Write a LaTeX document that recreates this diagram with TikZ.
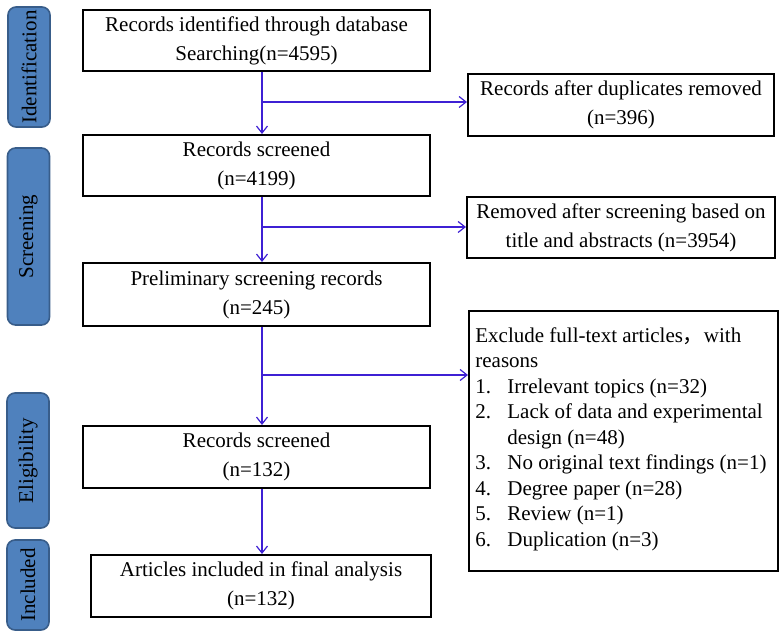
\documentclass[tikz,border=0pt]{standalone}
\usepackage{fontspec}
\setmainfont{Liberation Serif}
\newfontfamily\cjk{Noto Sans CJK SC}
\usepackage{tikz}
\usetikzlibrary{positioning}
\usetikzlibrary{arrows.meta}
\definecolor{flowblue}{RGB}{62,32,212}
\definecolor{barfill}{RGB}{79,129,189}
\definecolor{barline}{RGB}{56,93,138}
\tikzset{% styles of the flow chart
        box/.style={draw, line width=1pt, inner sep=0pt, align=center,
                    font=\fontsize{10.5}{14.5}\selectfont},
        stage/.style={draw=barline, fill=barfill, line width=0.8pt, rounded corners=4pt,
                    rotate=90, inner sep=0pt, minimum height=21pt,
                    font=\fontsize{10.5}{12}\selectfont},
        flow/.style={draw=flowblue, line width=0.6pt, -{Straight Barb[length=3.5pt,width=5.5pt]}}
        }

\begin{document}
\begin{tikzpicture}[x=0.5pt,y=-0.5pt]
\useasboundingbox (0,0) rectangle (783,636);
% stages on the left
\node[stage, minimum width=60pt] (sIdent) at (29,67) {Identification};
\node[stage, minimum width=88.5pt] (sScreen) at (28.5,236.5) {Screening};
\node[stage, minimum width=67.5pt] (sElig) at (28,460.5) {Eligibility};
\node[stage, minimum width=45pt] (sIncl) at (28,585) {Included};
% main column
\node[box, minimum width=173.5pt, minimum height=30.5pt] (ident) at (256.5,40.5)
     {Records identified through database\\Searching(n=4595)};
\node[box, minimum width=173.5pt, minimum height=30.5pt] (screen) at (256.5,165.5)
     {Records screened\\(n=4199)};
\node[box, minimum width=173.5pt, minimum height=31.5pt] (prelim) at (256.5,294.5)
     {Preliminary screening records\\(n=245)};
\node[box, minimum width=173.5pt, minimum height=31pt] (elig) at (256.5,457)
     {Records screened\\(n=132)};
\node[box, minimum width=170pt, minimum height=31pt] (incl) at (261,586)
     {Articles included in final analysis\\(n=132)};
% right column
\node[box, minimum width=153pt, minimum height=31pt] (dupl) at (621,105)
     {Records after duplicates removed\\(n=396)};
\node[box, minimum width=154pt, minimum height=30.5pt] (removed) at (621,227.5)
     {Removed after screening based on\\title and abstracts (n=3954)};
\node[box, minimum width=154.5pt, minimum height=130pt] (excl) at (623.5,441) {};
\node[anchor=west, inner sep=0pt, align=left,
      font=\fontsize{10.5}{12.75}\selectfont] (exclText) at (475,439)
     {Exclude full-text articles{\cjk ，}with\\
      reasons\\
      \makebox[16pt][l]{1.}Irrelevant topics (n=32)\\
      \makebox[16pt][l]{2.}Lack of data and experimental\\
      \hspace*{16pt}design (n=48)\\
      \makebox[16pt][l]{3.}No original text findings (n=1)\\
      \makebox[16pt][l]{4.}Degree paper (n=28)\\
      \makebox[16pt][l]{5.}Review (n=1)\\
      \makebox[16pt][l]{6.}Duplication (n=3)};
% junctions on the spine
\coordinate (j1) at (262,102);
\coordinate (j2) at (262,227);
\coordinate (j3) at (262,375);
\draw[flow] (ident.south -| j1) -- (screen.north -| j1);
\draw[flow] (screen.south -| j1) -- (prelim.north -| j1);
\draw[flow] (prelim.south -| j1) -- (elig.north -| j1);
\draw[flow] (elig.south -| j1) -- (incl.north -| j1);
\draw[flow] (j1) -- (j1 -| dupl.west);
\draw[flow] (j2) -- (j2 -| removed.west);
\draw[flow] (j3) -- (j3 -| excl.west);
\end{tikzpicture}
\end{document}
